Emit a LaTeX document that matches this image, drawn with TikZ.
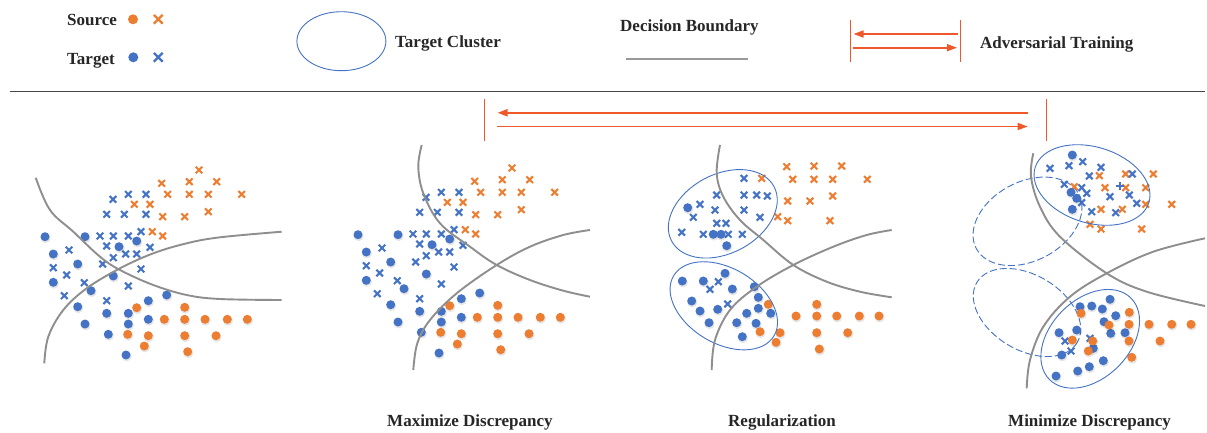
\documentclass[tikz,border=0pt]{standalone}
\usepackage{fontspec}
\setmainfont{Liberation Serif}
\usetikzlibrary{arrows.meta}
\definecolor{srcor}{HTML}{ED7D31}
\definecolor{tgtbl}{HTML}{4472C4}
\definecolor{advred}{RGB}{238,88,42}
\definecolor{bndgray}{HTML}{8E8E8E}
\definecolor{txtdark}{HTML}{262626}
\begin{document}
\begin{tikzpicture}[x=1pt,y=-1pt,
  lbl/.style={font=\fontsize{17}{20}\selectfont\bfseries, text=txtdark, inner sep=0pt, anchor=base west},
  bnd/.style={draw=bndgray, line width=1.9pt},
  clus/.style={draw=tgtbl, line width=0.9pt},
  clusdash/.style={clus, dash pattern=on 7pt off 3pt},
  advline/.style={draw=advred, line width=1.6pt},
  advbar/.style={draw=advred, line width=1.4pt},
  advtip/.style={-{Triangle[length=10pt,width=7pt]}},
  shd/.style={fill=black, opacity=0.10},
  xm/.style={line width=2.1pt},
]
\useasboundingbox (0,0) rectangle (1207,432);
\fill[white] (0,0) rectangle (1207,432);

% ---------- marker macros ----------
\newcommand\odots[1]{\foreach \x/\y in {#1}{\fill[shd] (\x+0.6,\y+1.4) circle[radius=5.0]; \fill[srcor] (\x,\y) circle[radius=4.5];}}
\newcommand\bdots[1]{\foreach \x/\y in {#1}{\fill[shd] (\x+0.6,\y+1.4) circle[radius=5.0]; \fill[tgtbl] (\x,\y) circle[radius=4.5];}}
\newcommand\oxs[1]{\foreach \x/\y in {#1}{\draw[xm,srcor,shift={(\x,\y)}] (-3.3,-3.3)--(3.3,3.3) (-3.3,3.3)--(3.3,-3.3);}}
\newcommand\bxs[1]{\foreach \x/\y in {#1}{\draw[xm,tgtbl,shift={(\x,\y)}] (-3.3,-3.3)--(3.3,3.3) (-3.3,3.3)--(3.3,-3.3);}}

% ---------- legend ----------
\node[lbl] (lsrc) at (67,25.7) {Source};
\node[lbl] (ltgt) at (67,64.3) {Target};
\fill[srcor] (133,19.3) circle[radius=5];
\fill[tgtbl] (133.3,57.3) circle[radius=5];
\draw[srcor,line width=2.3pt,shift={(158.3,19.3)}] (-4.4,-4.4)--(4.4,4.4) (-4.4,4.4)--(4.4,-4.4);
\draw[tgtbl,line width=2.3pt,shift={(158.3,57.3)}] (-4.4,-4.4)--(4.4,4.4) (-4.4,4.4)--(4.4,-4.4);

\draw[clus] (341.4,41.2) ellipse [x radius=44.5, y radius=29.5];
\node[lbl] (lclu) at (395,47.6) {Target Cluster};

\node[lbl] (ldb) at (620,31.6) {Decision Boundary};
\coordinate (dbL) at (626,58.5);
\coordinate (dbR) at (748,58.5);
\draw[draw=black!40, line width=2pt] (dbL) -- (dbR);

\coordinate (lb1t) at (850.3,20); \coordinate (lb1b) at (850.3,62);
\coordinate (lb2t) at (960.7,20); \coordinate (lb2b) at (960.7,62);
\draw[advbar] (lb1t) -- (lb1b);
\draw[advbar] (lb2t) -- (lb2b);
\coordinate (la1s) at (957.7,34); \coordinate (la1e) at (853.5,34);
\coordinate (la2s) at (852.5,47.7); \coordinate (la2e) at (957,47.7);
\draw[advline,advtip,advred] (la1s) -- (la1e);
\draw[advline,advtip,advred] (la2s) -- (la2e);
\node[lbl] (ladv) at (980,48.6) {Adversarial Training};

% separator
\coordinate (sepL) at (9.5,91.5);
\coordinate (sepR) at (1205,91.5);
\draw[black!72, line width=1.3pt] (sepL) -- (sepR);

% ---------- big adversarial arrows ----------
\coordinate (bb1t) at (484.3,99); \coordinate (bb1b) at (484.3,140.5);
\coordinate (bb2t) at (1046.5,99); \coordinate (bb2b) at (1046.5,140.5);
\draw[advbar] (bb1t) -- (bb1b);
\draw[advbar] (bb2t) -- (bb2b);
\coordinate (ba1s) at (1027.7,112.8); \coordinate (ba1e) at (497.5,112.8);
\coordinate (ba2s) at (497.3,126.5); \coordinate (ba2e) at (1027.7,126.5);
\draw[advred,line width=2pt,advtip] (ba1s) -- (ba1e);
\draw[advred,line width=1.4pt,advtip] (ba2s) -- (ba2e);

% ---------- panel 1 (and copy as panel 2) ----------
\newcommand\panelone{%
\oxs{199/170, 161.7/183.3, 189.3/181.7, 216.7/181.7, 134.3/204.3, 150/204.3, 167.7/194.3, 189.3/194.3, 208.3/194.3, 241.7/194.3, 162.7/216.7, 184.7/216.7, 208.3/211.7, 152.3/231.7, 162.7/236}
\bxs{113/199.3, 128.3/194.3, 146/194.3, 106.7/214.3, 124.3/214.3, 146/214.3, 100/236, 113.3/236, 128.3/236, 141/231.7, 106.7/246, 150/247.3, 125.7/254, 136.7/254, 113.3/257.7, 69/250, 53.3/267.7, 66.7/275, 102.7/264, 141/269, 84.3/282.7, 128.3/286, 64.3/295.7, 106.7/300.7}
\bdots{45/236.7, 85/236.7, 136.7/241, 119/246.7, 53.3/254, 77.7/264, 53.3/282.3, 113.3/276, 91/290.7, 166.7/295, 148.3/300.7, 77.7/306.7, 106.7/313.3, 128.3/313.3, 85/324, 128.3/324, 148.3/319.3, 108.3/334.3, 126/355}
\odots{136.7/307.7, 184.7/307.3, 164.3/319.3, 184.7/319.3, 205/319.3, 227.3/319.3, 247.3/319.3, 127.7/334.3, 148.3/335.7, 184.7/335.7, 216/335.7, 144.3/346, 187.7/351.7}
}
\panelone
\draw[bnd] plot[smooth, tension=0.6] coordinates {(35.7,177.7) (50,210) (73.3,231.7) (100,256.7) (120,270) (153.3,285) (186.7,295) (220,299) (281.7,300)};
\draw[bnd] plot[smooth, tension=0.6] coordinates {(44.3,363.3) (48.3,336.7) (63.3,310) (86.7,288.3) (120,268.3) (153.3,253.3) (186.7,243.3) (220,237.3) (281.7,231.7)};

\begin{scope}[shift={(313,-2)}]
\panelone
\end{scope}
\draw[bnd] plot[smooth, tension=0.6] coordinates {(421.7,145) (418.3,166.7) (423.3,193.3) (440,223.3) (470,246.7) (496.7,265) (530,280) (563.3,290.7) (590,296.7)};
\draw[bnd] plot[smooth, tension=0.6] coordinates {(413.3,370) (417.3,343.3) (430,320) (456.7,293.3) (496.7,265) (530,246.7) (563.3,235) (590,230)};
\node[lbl] (lmax) at (387,426.6) {Maximize Discrepancy};

% ---------- panel 3 ----------
\oxs{786.7/166.7, 814/166, 841.7/166, 761.7/178.3, 792.7/179.3, 814/179.3, 832.7/179.3, 867.3/179.3, 787.7/201, 810/201, 832.7/196, 777.7/216.7, 787.7/220.7, 830/220.7}
\bxs{744/178.3, 716.7/195, 700/204.3, 744/195, 756.7/195, 767.3/196, 715/210, 744/210, 693.3/217.3, 760/217.3, 681.7/232.3, 703.3/234.3, 716.7/223.3, 726/223.3, 728.3/234.3, 742.3/234.3, 718.3/281.7, 710/289.3, 727.7/304}
\bdots{687.7/207.7, 713.3/234.3, 721/234.3, 726.7/245.7, 682.3/281, 703.3/281, 725/273.3, 732.3/289, 754.3/286.7, 758.3/297.3, 691.7/301, 700/311, 717.7/309.3, 758.3/308.3, 770.7/313.3, 746.7/313.3, 709/322.7, 736.7/322.7, 756/323.3, 742.3/336.7}
\odots{768.3/304.3, 816.7/304.3, 796/316, 816.7/316, 836.7/316, 859.3/316, 879/316, 760/331.7, 780/332.7, 816.7/332.7, 847.7/332.7, 776/342.3, 819.3/349}
\draw[clus, rotate around={28:(722.8,213.8)}] (722.8,213.8) ellipse [x radius=58, y radius=39.5];
\draw[clus, rotate around={-31:(723.8,305.8)}] (723.8,305.8) ellipse [x radius=58.5, y radius=37.5];
\draw[bnd] plot[smooth, tension=0.6] coordinates {(720,145) (716.7,173.3) (723.3,196.7) (740,220) (763.3,240) (793.3,265) (826.7,281.7) (860,291.7) (891.7,297.3)};
\draw[bnd] plot[smooth, tension=0.6] coordinates {(711.7,370) (715,340) (730,310) (756.7,286.7) (793.3,265) (833.3,246.7) (866.7,235) (891.7,230)};
\node[lbl] (lreg) at (728,426.6) {Regularization};

% ---------- panel 4 ----------
\draw[clusdash, rotate around={28:(1027.5,221.3)}] (1027.5,221.3) ellipse [x radius=58, y radius=39.5];
\draw[clusdash, rotate around={-31:(1027,312.5)}] (1027,312.5) ellipse [x radius=58.5, y radius=37.5];
\oxs{1099.3/175.7, 1125.7/174, 1153.3/174, 1074.3/186.7, 1105/187.7, 1125.7/187.7, 1145.7/187.7, 1171.7/204.3, 1101/209.3, 1122.3/209.3, 1145.7/204.3, 1090/224.3, 1101/229, 1141.7/229}
\bxs{1050/168.3, 1069/165.7, 1082.7/161.7, 1101/167.3, 1089.3/176, 1132.3/174, 1064.3/184.3, 1081.7/187.7, 1086.7/193.3, 1110/196.7, 1129.3/195, 1136.7/203.3, 1081.7/202.7, 1091.7/211.7, 1115.7/212.7, 1065/341, 1090/338.3, 1071/351}
\draw[xm,tgtbl,shift={(1120,185.7)}] (-3.8,0)--(3.8,0) (0,-3.8)--(0,3.8);
\bdots{1072.3/155, 1071/192.3, 1076.7/198.3, 1072.3/209.3, 1110/299.3, 1080/306.7, 1091.7/306, 1102.3/309, 1115.7/315.7, 1104/321.7, 1059/332.7, 1076.7/330, 1110.7/333.3, 1125/332.7, 1093.3/348.3, 1061.7/355, 1103.3/360.7, 1089.3/366.7, 1077.7/371, 1056/376}
\odots{1081/313.3, 1129.3/312.3, 1109/325, 1129/324.3, 1149/324.3, 1171.7/324.3, 1191/324.3, 1072.3/340, 1092.7/341, 1129/341, 1160/341, 1088.3/351, 1131.7/357.3}
\draw[clus, rotate around={-17:(1092,185)}] (1092,185) ellipse [x radius=59.5, y radius=38];
\draw[clus, rotate around={45:(1090.2,338.8)}] (1090.2,338.8) ellipse [x radius=57.6, y radius=39.4];
\draw[bnd] plot[smooth, tension=0.6] coordinates {(1033.3,153.3) (1031,176.7) (1040,206.7) (1060,236.7) (1106.7,273.3) (1146.7,291.7) (1205,306)};
\draw[bnd] plot[smooth, tension=0.6] coordinates {(1026.7,388.3) (1030,360) (1043.3,326.7) (1070,296.7) (1106.7,273.3) (1153.3,251.7) (1205,238.3)};
\node[lbl] (lmin) at (1008,426.6) {Minimize Discrepancy};
\end{tikzpicture}
\end{document}
